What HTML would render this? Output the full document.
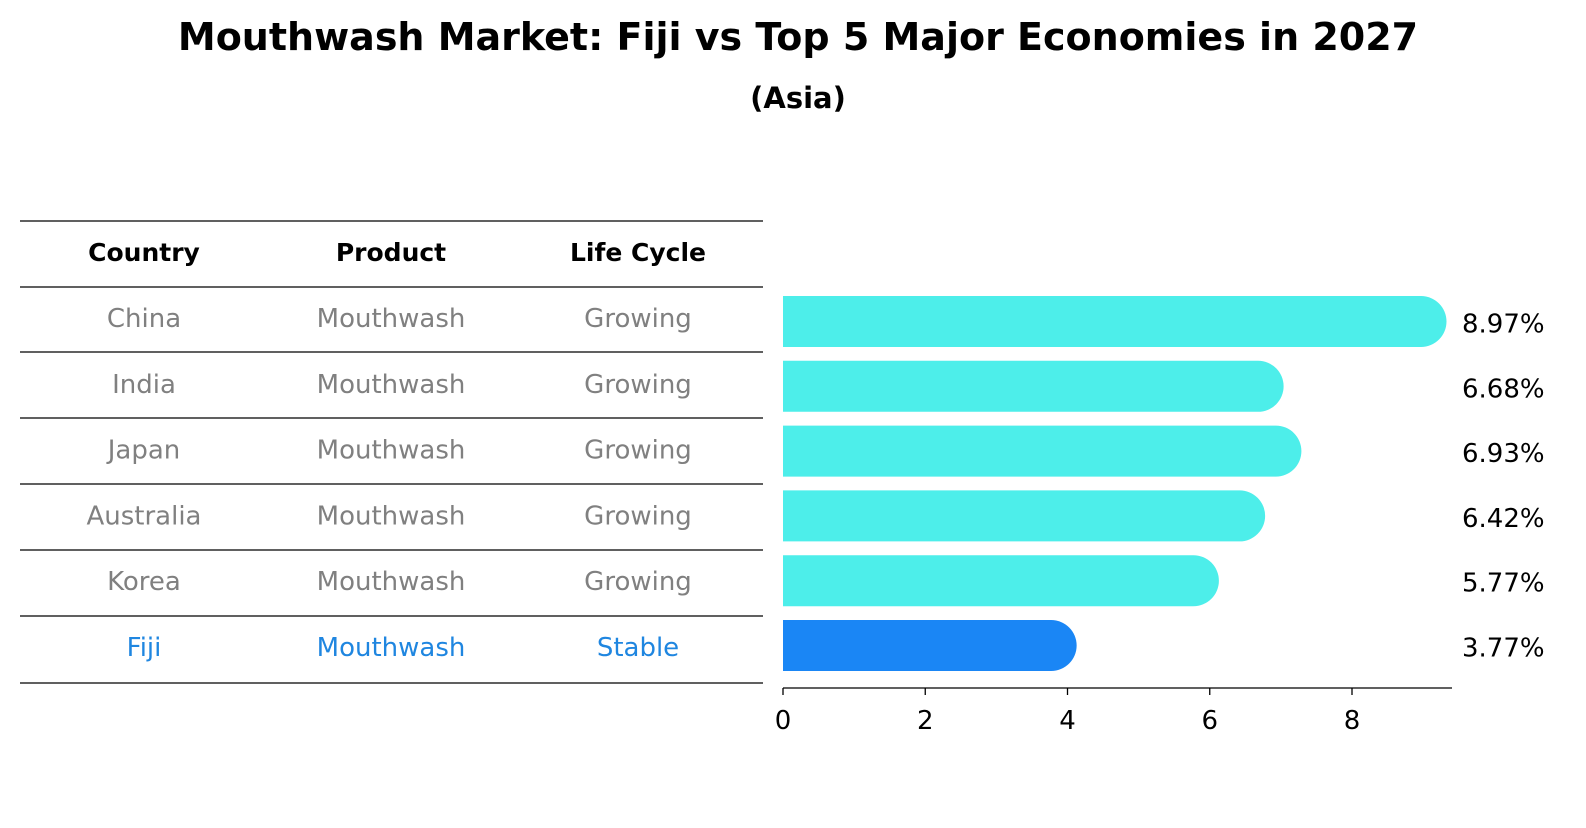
<!DOCTYPE html>
<html><head><meta charset="utf-8"><style>
body{margin:0;background:#fff;font-family:"Liberation Sans","DejaVu Sans",sans-serif;}
svg text{font-family:"DejaVu Sans","Liberation Sans",sans-serif;}
</style></head><body>
<svg id="c" width="1586" height="823" xmlns="http://www.w3.org/2000/svg">
<text x="798" y="50" text-anchor="middle" font-size="38" font-weight="bold">Mouthwash Market: Fiji vs Top 5 Major Economies in 2027</text>
<text x="798" y="108" text-anchor="middle" font-size="29" font-weight="bold">(Asia)</text>
<g id="table"></g>
<g id="bars"></g>
</svg>
<script>
const countries=["China","India","Japan","Australia","Korea","Fiji"];
const products=["Mouthwash","Mouthwash","Mouthwash","Mouthwash","Mouthwash","Mouthwash"];
const lifeCycles=["Growing","Growing","Growing","Growing","Growing","Stable"];
const values=[8.97,6.68,6.93,6.42,5.77,3.77];
const valueLabels=["8.97%","6.68%","6.93%","6.42%","5.77%","3.77%"];
const ticks=[0,2,4,6,8];
const NS="http://www.w3.org/2000/svg";
function mk(tag,attrs,parent,txt){const e=document.createElementNS(NS,tag);for(const k in attrs)e.setAttribute(k,attrs[k]);if(txt!==undefined)e.textContent=txt;parent.appendChild(e);return e;}
const x=v=>783+v*71.125;
const rowY=i=>321.5+i*64.8;
const tbl=document.getElementById('table');
const lines=[221,287,352,418,484,550,616,683];
lines.forEach((ly,i)=>{const l=mk('line',{x1:20,x2:763,y1:ly,y2:ly,stroke:'#000','stroke-width':1.2},tbl);
});
const cols=[144,391,638];
["Country","Product","Life Cycle"].forEach((h,j)=>{const t=mk('text',{x:cols[j],y:261,'text-anchor':'middle','font-size':25,'font-weight':'bold'},tbl,h);
});
countries.forEach((c,i)=>{const cy=318+i*65.8+9;const col=c==="Fiji"?"#1f86e0":"#808080";
[c,products[i],lifeCycles[i]].forEach((s,j)=>{const t=mk('text',{x:cols[j],y:cy,'text-anchor':'middle','font-size':26,fill:col},tbl,s);
});});
const g=document.getElementById('bars');
values.forEach((v,i)=>{const cy=rowY(i),h=51,col=countries[i]==="Fiji"?"#1a86f5":"#4deeea";
const p=mk('path',{d:`M${x(0)},${cy-h/2} H${x(v)} A${h/2},${h/2} 0 0 1 ${x(v)},${cy+h/2} H${x(0)} Z`,fill:col},g);

const t=mk('text',{x:1462,y:cy+11,'font-size':26},g,valueLabels[i]);
});
const ax=mk('line',{x1:783,x2:1452,y1:688,y2:688,stroke:'#000','stroke-width':1.3},g);

ticks.forEach(tv=>{const l=mk('line',{x1:x(tv),x2:x(tv),y1:688,y2:695,stroke:'#000','stroke-width':1.3},g);

const t=mk('text',{x:x(tv),y:729,'text-anchor':'middle','font-size':26},g,String(tv));
});
</script>
</body></html>
